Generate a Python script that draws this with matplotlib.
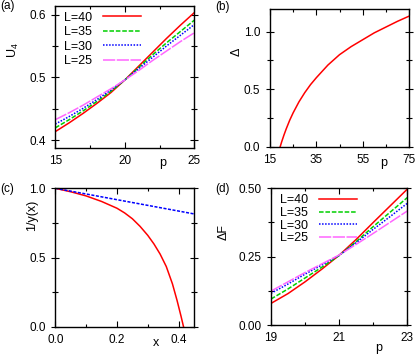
import numpy as np
import matplotlib
matplotlib.use("Agg")
import matplotlib.pyplot as plt
from matplotlib.ticker import MultipleLocator, FixedLocator, FormatStrFormatter

plt.rcParams["font.family"] = ["Liberation Sans", "DejaVu Sans"]
plt.rcParams["font.size"] = 8.5
plt.rcParams["mathtext.fontset"] = "custom"
plt.rcParams["mathtext.rm"] = "Liberation Sans"
plt.rcParams["mathtext.it"] = "Liberation Sans"

# ── (a) Binder cumulant U4 vs p ───────────────────────────────────────────────
p_a = [15, 16, 17, 18, 19, 20, 21, 22, 23, 24, 25]
u4_L40 = [0.414, 0.428, 0.443, 0.459, 0.476, 0.496, 0.518, 0.540, 0.562, 0.583, 0.603]
u4_L35 = [0.420, 0.433, 0.447, 0.462, 0.478, 0.496, 0.516, 0.536, 0.555, 0.573, 0.591]
u4_L30 = [0.426, 0.438, 0.451, 0.465, 0.480, 0.496, 0.514, 0.532, 0.550, 0.567, 0.584]
u4_L25 = [0.433, 0.444, 0.456, 0.469, 0.482, 0.496, 0.511, 0.527, 0.542, 0.557, 0.571]

# ── (b) Delta vs p ────────────────────────────────────────────────────────────
p_b = [19.4, 20.0, 21.0, 22.0, 23.5, 25, 27.5, 30, 32.5, 35, 40, 45, 50, 55, 60, 65, 70, 75]
delta_b = [0.0, 0.04, 0.10, 0.155, 0.23, 0.295, 0.39, 0.47, 0.54, 0.60,
           0.71, 0.80, 0.87, 0.93, 0.99, 1.04, 1.09, 1.135]

# ── (c) 1/y(x) vs x ───────────────────────────────────────────────────────────
x_c = [0.0, 0.05, 0.10, 0.15, 0.20, 0.225, 0.25, 0.275, 0.30, 0.32, 0.34,
       0.36, 0.38, 0.395, 0.408, 0.416]
inv_y_red = [1.0, 0.975, 0.945, 0.905, 0.856, 0.822, 0.78, 0.725, 0.66, 0.598,
             0.525, 0.435, 0.31, 0.19, 0.075, 0.0]
x_c_blue = [0.0, 0.45]
inv_y_blue = [1.0, 0.815]

# ── (d) Delta F vs p ──────────────────────────────────────────────────────────
p_d = [19, 19.5, 20, 20.5, 21, 21.5, 22, 22.5, 23]
dF_L40 = [0.079, 0.115, 0.158, 0.205, 0.255, 0.313, 0.375, 0.436, 0.497]
dF_L35 = [0.095, 0.132, 0.172, 0.212, 0.254, 0.305, 0.360, 0.413, 0.466]
dF_L30 = [0.116, 0.150, 0.186, 0.220, 0.255, 0.301, 0.350, 0.397, 0.445]
dF_L25 = [0.124, 0.158, 0.192, 0.224, 0.256, 0.295, 0.335, 0.376, 0.417]

labels = ["L=40", "L=35", "L=30", "L=25"]
styles = [
    dict(color="#ff0000", linestyle="-"),
    dict(color="#00d000", linestyle=(0, (3, 1.2))),
    dict(color="#0000ff", linestyle=(0, (1, 1))),
    dict(color="#ff66ff", linestyle=(0, (8, 1))),
]

fig = plt.figure(figsize=(4.16, 3.55), dpi=100)
W, H = 416, 355


def add_ax(l, r, t, b):
    return fig.add_axes([l / W, 1 - b / H, (r - l) / W, (b - t) / H])


def style_ax(ax):
    for s in ax.spines.values():
        s.set_linewidth(1.0)
    ax.tick_params(which="both", direction="in", top=True, right=True,
                   width=0.8, labelsize=8.5)
    ax.tick_params(axis="x", which="major", length=4, pad=5)
    ax.tick_params(axis="x", which="minor", length=2.5)
    ax.tick_params(axis="y", which="major", direction="inout", length=6, pad=4)
    ax.tick_params(axis="y", which="minor", direction="inout", length=4)


lw = 1.1

# (a)
axa = add_ax(55.3, 194.3, 5.7, 148)
for y, lab, st in zip([u4_L40, u4_L35, u4_L30, u4_L25], labels, styles):
    axa.plot(p_a, y, lw=lw, label=lab, **st)
axa.set_xlim(15, 25)
axa.set_ylim(0.388, 0.614)
axa.xaxis.set_major_locator(MultipleLocator(5))
axa.xaxis.set_minor_locator(MultipleLocator(2.5))
axa.yaxis.set_major_locator(MultipleLocator(0.1))
axa.yaxis.set_minor_locator(MultipleLocator(0.05))
axa.yaxis.set_major_formatter(FormatStrFormatter("%.1f"))
style_ax(axa)
axa.legend(loc="upper left", bbox_to_anchor=(0.0, 1.02), frameon=False,
           markerfirst=False, handlelength=3.0, labelspacing=0.2,
           handletextpad=0.9, borderaxespad=0.3, fontsize=9)
fig.text(13 / W, 1 - 50 / H, "U$_4$", rotation=90, ha="center", va="center", fontsize=9)
fig.text(163 / W, 1 - 163 / H, "p", ha="center", va="center", fontsize=9)
fig.text(0 / W, 1 - 6 / H, "(a)", ha="left", va="center", fontsize=8.5)

# (b)
axb = add_ax(270, 409, 8.7, 146.7)
axb.plot(p_b, delta_b, color="#ff0000", lw=lw)
axb.set_xlim(15, 75)
axb.set_ylim(0, 1.2)
axb.xaxis.set_major_locator(FixedLocator([15, 35, 55, 75]))
axb.xaxis.set_minor_locator(FixedLocator([25, 45, 65]))
axb.yaxis.set_major_locator(MultipleLocator(0.5))
axb.yaxis.set_minor_locator(MultipleLocator(0.25))
axb.yaxis.set_major_formatter(FormatStrFormatter("%.1f"))
style_ax(axb)
fig.text(237 / W, 1 - 52 / H, "Δ", rotation=90, ha="center", va="center", fontsize=9)
fig.text(384 / W, 1 - 163 / H, "p", ha="center", va="center", fontsize=9)
fig.text(215 / W, 1 - 7 / H, "(b)", ha="left", va="center", fontsize=8.5)

# (c)
axc = add_ax(55.3, 194, 188.3, 326.7)
axc.plot(x_c, inv_y_red, color="#ff0000", lw=lw)
axc.plot(x_c_blue, inv_y_blue, color="#0000ff", lw=lw, linestyle=(0, (2, 1)))
axc.set_xlim(0, 0.45)
axc.set_ylim(0, 1.0)
axc.xaxis.set_major_locator(MultipleLocator(0.2))
axc.xaxis.set_minor_locator(MultipleLocator(0.1))
axc.yaxis.set_major_locator(MultipleLocator(0.5))
axc.yaxis.set_minor_locator(MultipleLocator(0.25))
axc.xaxis.set_major_formatter(FormatStrFormatter("%.1f"))
axc.yaxis.set_major_formatter(FormatStrFormatter("%.1f"))
style_ax(axc)
fig.text(31.7 / W, 1 - 215 / H, "1/y(x)", rotation=90, ha="center", va="center", fontsize=9)
fig.text(155.7 / W, 1 - 343 / H, "x", ha="center", va="center", fontsize=9)
fig.text(0 / W, 1 - 189 / H, "(c)", ha="left", va="center", fontsize=8.5)

# (d)
axd = add_ax(271, 407.3, 188.3, 325)
for y, lab, st in zip([dF_L40, dF_L35, dF_L30, dF_L25], labels, styles):
    axd.plot(p_d, y, lw=lw, label=lab, **st)
axd.set_xlim(19, 23)
axd.set_ylim(0, 0.5)
axd.xaxis.set_major_locator(FixedLocator([19, 21, 23]))
axd.xaxis.set_minor_locator(FixedLocator([20, 22]))
axd.yaxis.set_major_locator(MultipleLocator(0.25))
axd.yaxis.set_minor_locator(MultipleLocator(0.125))
axd.yaxis.set_major_formatter(FormatStrFormatter("%.2f"))
style_ax(axd)
axd.legend(loc="upper left", bbox_to_anchor=(0.0, 1.02), frameon=False,
           markerfirst=False, handlelength=3.0, labelspacing=0.05,
           handletextpad=0.9, borderaxespad=0.3, fontsize=9)
fig.text(224 / W, 1 - 232 / H, "ΔF", rotation=90, ha="center", va="center", fontsize=9)
fig.text(379 / W, 1 - 348 / H, "p", ha="center", va="center", fontsize=9)
fig.text(215 / W, 1 - 189 / H, "(d)", ha="left", va="center", fontsize=8.5)

fig.savefig("out.png", dpi=100)
